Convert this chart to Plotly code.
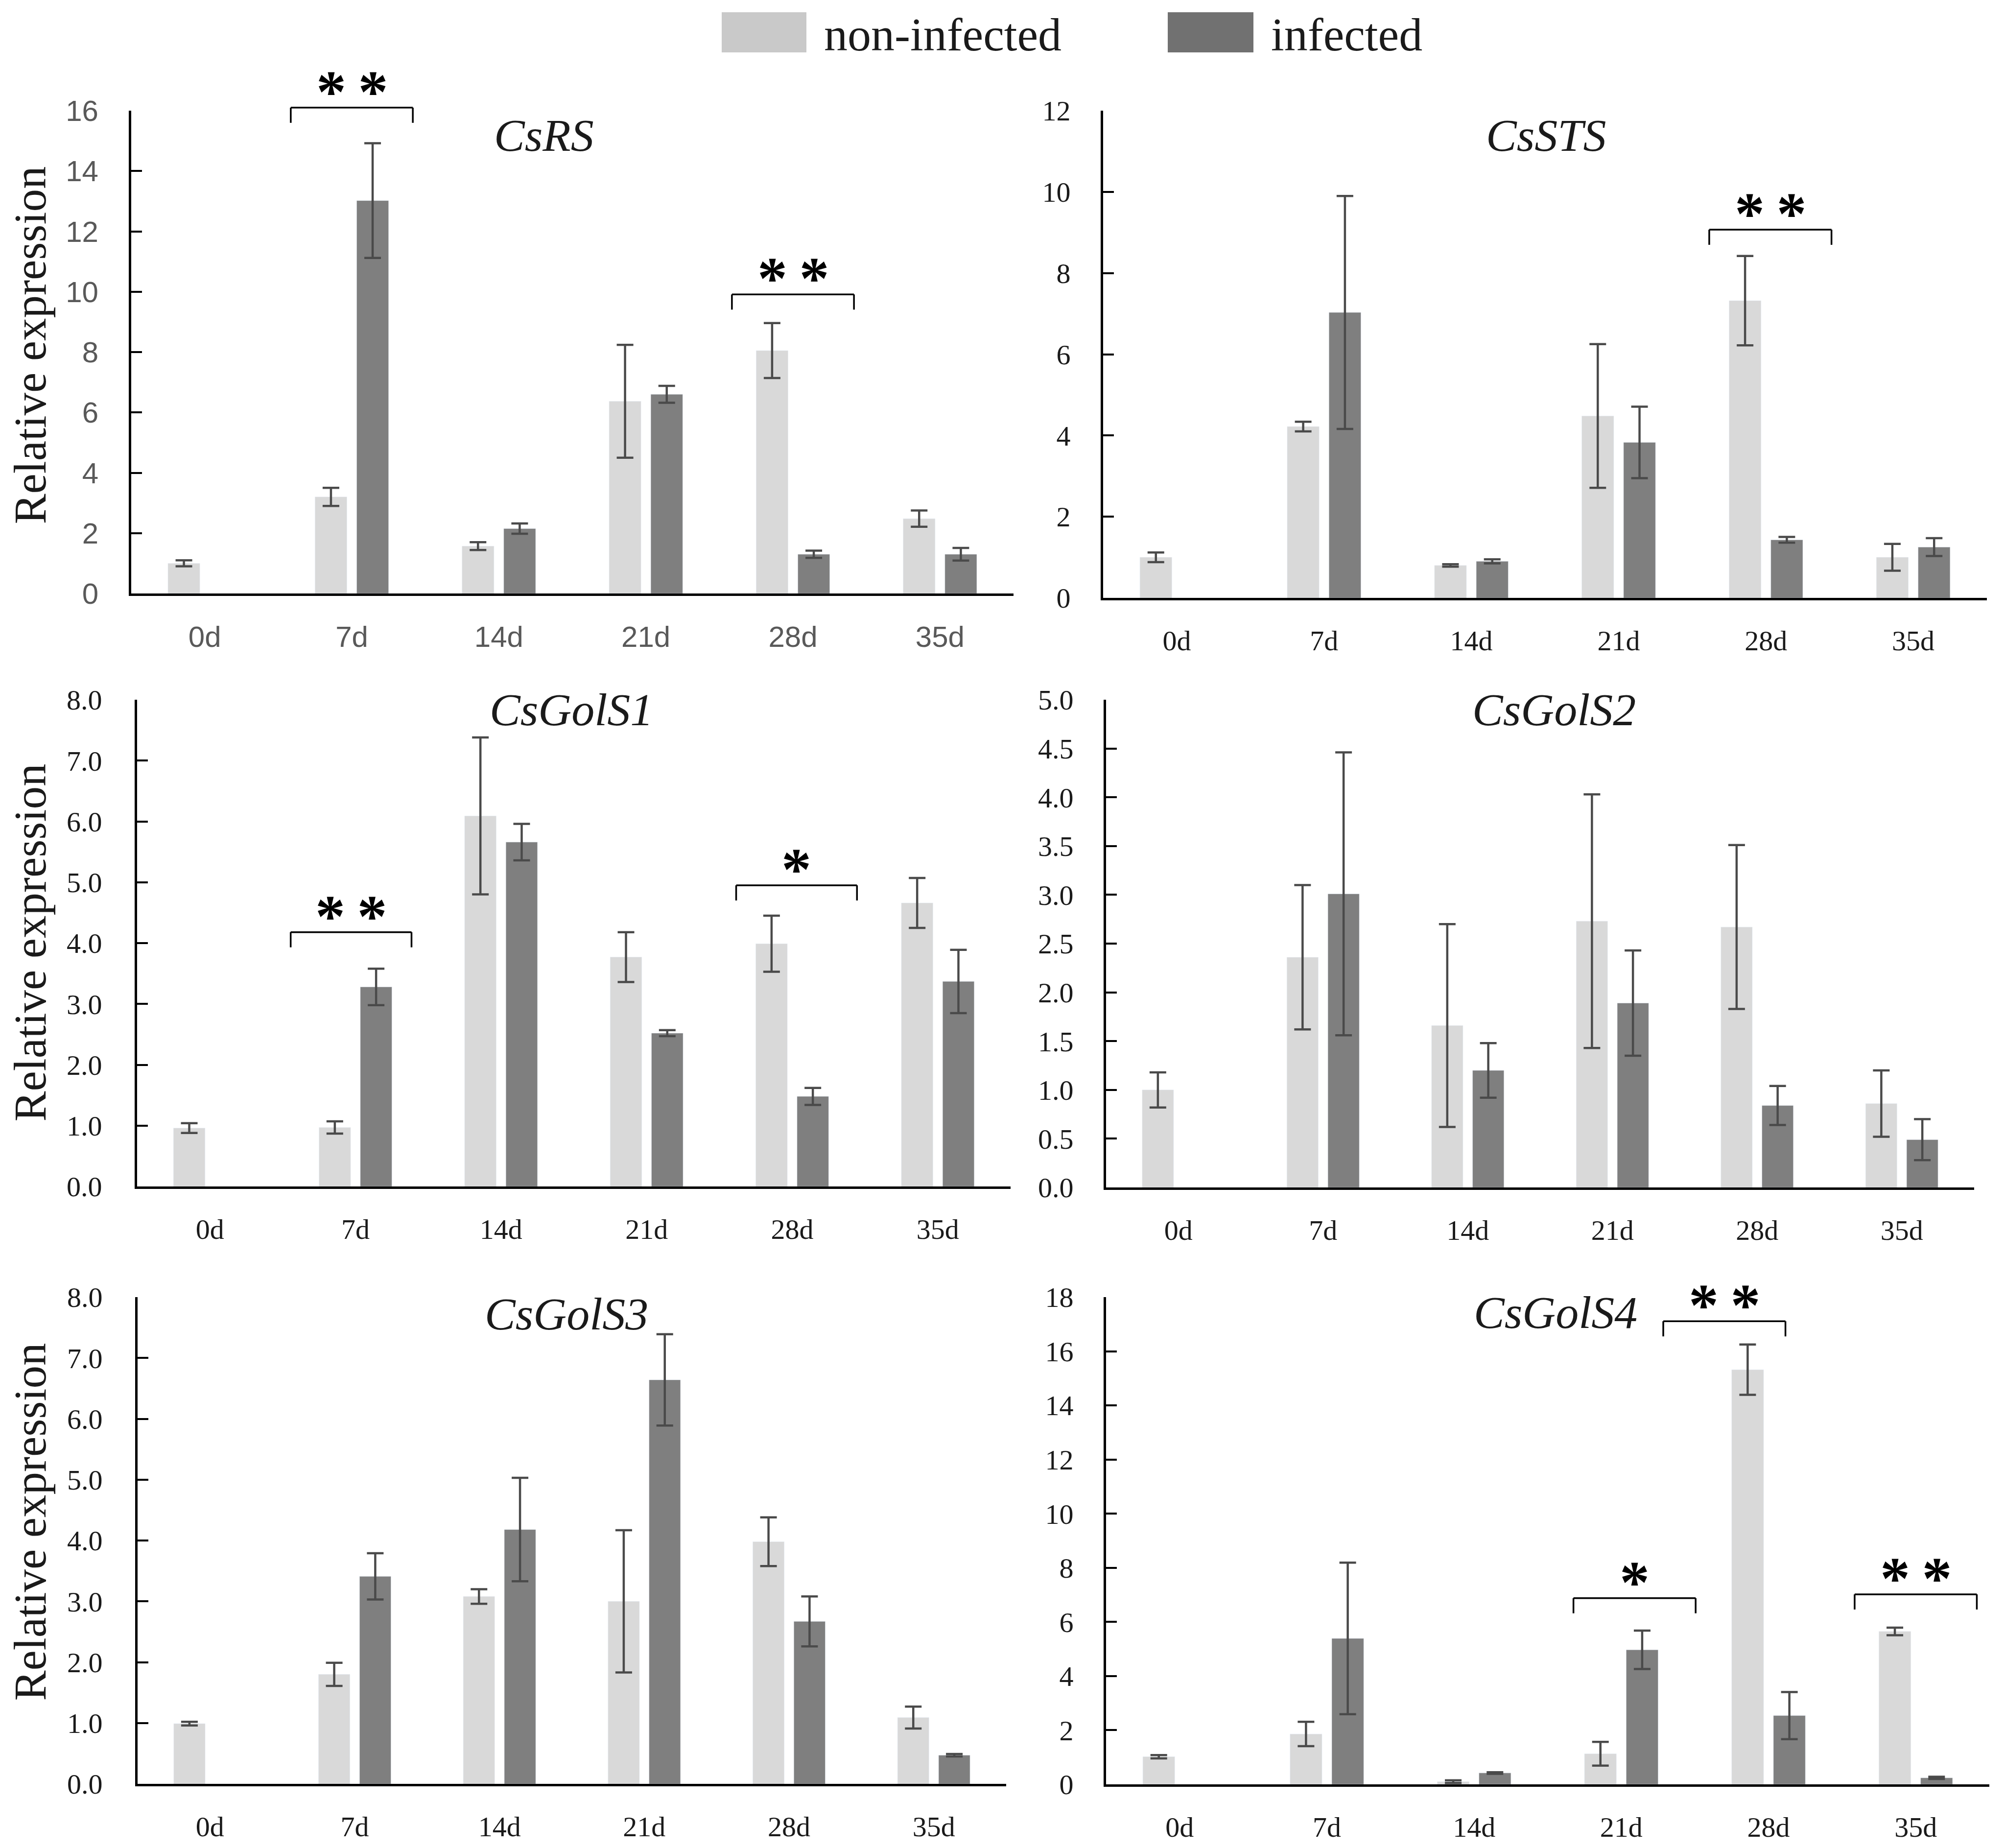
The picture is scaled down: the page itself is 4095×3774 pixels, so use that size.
import plotly.graph_objects as go

W, H = 4095, 3774
OFF = 8  # page body margin in the browser

days = ["0d", "7d", "14d", "21d", "28d", "35d"]
genes = ["CsRS", "CsSTS", "CsGolS1", "CsGolS2", "CsGolS3", "CsGolS4"]

csrs_non = [1.0, 3.2, 1.57, 6.37, 8.05, 2.48]
csrs_non_err = [0.1, 0.3, 0.13, 1.87, 0.91, 0.27]
csrs_inf = [None, 13.02, 2.15, 6.6, 1.3, 1.3]
csrs_inf_err = [None, 1.9, 0.17, 0.28, 0.12, 0.21]

cssts_non = [1.0, 4.22, 0.8, 4.48, 7.32, 1.0]
cssts_non_err = [0.12, 0.12, 0.03, 1.77, 1.1, 0.33]
cssts_inf = [None, 7.03, 0.9, 3.83, 1.43, 1.25]
cssts_inf_err = [None, 2.87, 0.05, 0.88, 0.07, 0.22]

gols1_non = [0.96, 0.97, 6.09, 3.77, 3.99, 4.66]
gols1_non_err = [0.08, 0.1, 1.29, 0.41, 0.46, 0.41]
gols1_inf = [None, 3.28, 5.66, 2.52, 1.48, 3.37]
gols1_inf_err = [None, 0.3, 0.3, 0.05, 0.14, 0.52]

gols2_non = [1.0, 2.36, 1.66, 2.73, 2.67, 0.86]
gols2_non_err = [0.18, 0.74, 1.04, 1.3, 0.84, 0.34]
gols2_inf = [None, 3.01, 1.2, 1.89, 0.84, 0.49]
gols2_inf_err = [None, 1.45, 0.28, 0.54, 0.2, 0.21]

gols3_non = [0.99, 1.8, 3.08, 3.0, 3.98, 1.09]
gols3_non_err = [0.03, 0.19, 0.12, 1.17, 0.4, 0.18]
gols3_inf = [None, 3.41, 4.18, 6.64, 2.67, 0.47]
gols3_inf_err = [None, 0.38, 0.85, 0.75, 0.41, 0.02]

gols4_non = [1.02, 1.86, 0.1, 1.13, 15.32, 5.65]
gols4_non_err = [0.06, 0.45, 0.05, 0.44, 0.93, 0.14]
gols4_inf = [None, 5.39, 0.42, 4.97, 2.54, 0.24]
gols4_inf_err = [None, 2.8, 0.03, 0.71, 0.87, 0.04]

y_max = [16, 12, 8, 5, 8, 18]
y_dtick = [2, 2, 1, 0.5, 1, 2]
y_format = ["d", "d", ".1f", ".1f", ".1f", "d"]

# significance brackets: (category index centre, bracket level, label)
sig_csrs = [(1.0, 16.1, "**"), (4.0, 9.91, "**")]
sig_cssts = [(4.03, 9.07, "**")]
sig_gols1 = [(0.97, 4.18, "**"), (4.03, 4.95, "*")]
sig_gols4 = [(3.7, 17.11, "**"), (3.09, 6.88, "*"), (5.0, 7.02, "**")]

panels = [
    (csrs_non, csrs_non_err, csrs_inf, csrs_inf_err, sig_csrs),
    (cssts_non, cssts_non_err, cssts_inf, cssts_inf_err, sig_cssts),
    (gols1_non, gols1_non_err, gols1_inf, gols1_inf_err, sig_gols1),
    (gols2_non, gols2_non_err, gols2_inf, gols2_inf_err, []),
    (gols3_non, gols3_non_err, gols3_inf, gols3_inf_err, []),
    (gols4_non, gols4_non_err, gols4_inf, gols4_inf_err, sig_gols4),
]


def px(x):
    return (x - OFF) / W


def py(y):
    return 1 - (y - OFF) / H


# panel boxes in pixels: x0, x1, ytop, ybottom
boxes = [(268, 2070, 226, 1212), (2253, 4058, 226, 1221),
         (280, 2064, 1429, 2423), (2259, 4032, 1429, 2425),
         (281, 2055, 2649, 3643), (2259, 4063, 2649, 3644)]
title_pos = [(1111, 276), (3158, 276), (1167, 1449), (3174, 1449), (1157, 2683), (3177, 2680)]
ystandoff = [50, 50, 55, 50, 55, 50]

LIGHT = "#d9d9d9"
DARK = "#7f7f7f"
ERR = "#4a4a4a"
SERIF = "Liberation Serif, Times New Roman, serif"
SANS = "Liberation Sans, Arial, sans-serif"

fig = go.Figure()
layout = {}
shapes = []
annotations = []

for i, (non, non_e, inf, inf_e, sigs) in enumerate(panels):
    sfx = "" if i == 0 else str(i + 1)
    xa, ya = "x" + sfx, "y" + sfx
    eb = dict(thickness=4.5, width=17, color=ERR, visible=True, type="data")
    fig.add_trace(go.Bar(x=days, y=non, name="non-infected", marker_color=LIGHT,
                         error_y=dict(array=non_e, **eb), xaxis=xa, yaxis=ya,
                         showlegend=False))
    fig.add_trace(go.Bar(x=days, y=inf, name="infected", marker_color=DARK,
                         error_y=dict(array=inf_e, **eb), xaxis=xa, yaxis=ya,
                         showlegend=False))
    x0, x1, yt, yb = boxes[i]
    if i == 0:
        tfont = dict(family=SANS, size=60, color="#595959")
    else:
        tfont = dict(family=SERIF, size=58, color="#1a1a1a")
    layout["xaxis" + sfx] = dict(
        domain=[px(x0), px(x1)], anchor=ya, type="category", range=[-0.5, 5.5],
        showline=True, linecolor="black", linewidth=5, ticks="",
        tickfont=tfont, ticklabelstandoff=32, showgrid=False, zeroline=False,
        fixedrange=True)
    layout["yaxis" + sfx] = dict(
        domain=[py(yb), py(yt)], anchor=xa, range=[0, y_max[i]],
        dtick=y_dtick[i], tick0=0, tickformat=y_format[i],
        ticks="inside", ticklen=22, tickwidth=4, tickcolor="black",
        showline=True, linecolor="black", linewidth=5, showgrid=False,
        zeroline=False, tickfont=tfont, ticklabelstandoff=ystandoff[i],
        fixedrange=True)

    tx, ty = title_pos[i]
    annotations.append(dict(text="<i>%s</i>" % genes[i], x=px(tx), y=py(ty),
                            xref="paper", yref="paper", showarrow=False,
                            xanchor="center", yanchor="middle",
                            font=dict(family=SERIF, size=94, color="#1a1a1a")))

    drop = 31 / (yb - yt)
    for cx, lvl, lab in sigs:
        xl = (cx + 0.5 - 0.415) / 6
        xr = (cx + 0.5 + 0.415) / 6
        yl = lvl / y_max[i]
        line = dict(color="black", width=3.5)
        for (ax0, ay0, ax1, ay1) in [(xl, yl, xr, yl), (xl, yl, xl, yl - drop), (xr, yl, xr, yl - drop)]:
            shapes.append(dict(type="line", xref=xa + " domain", yref=ya + " domain",
                               x0=ax0, y0=ay0, x1=ax1, y1=ay1, line=line))
        annotations.append(dict(text="<b>%s</b>" % "\u2009".join(lab), x=(cx + 0.5) / 6, y=yl,
                                xref=xa + " domain", yref=ya + " domain",
                                showarrow=False, xanchor="center",
                                yanchor="bottom", yshift=-37,
                                font=dict(family=SERIF, size=122, color="black")))

# y axis titles
for cy in [705, 1925, 3108]:
    annotations.append(dict(text="Relative expression", x=0, y=py(cy),
                            xref="paper", yref="paper", showarrow=False, textangle=-90,
                            xanchor="left", yanchor="middle", borderpad=0,
                            font=dict(family=SERIF, size=93, color="#1a1a1a")))

# legend
legend_items = [("non-infected", "#c9c9c9", 1474, 1647, 1681),
                ("infected", "#717171", 2385, 2560, 2594)]
for lab, col, sx0, sx1, tx in legend_items:
    shapes.append(dict(type="rect", xref="paper", yref="paper", x0=px(sx0), x1=px(sx1),
                       y0=py(107), y1=py(25), fillcolor=col, line=dict(width=0)))
    annotations.append(dict(text=lab, x=px(tx), y=py(70), xref="paper", yref="paper",
                            showarrow=False, xanchor="left", yanchor="middle",
                            font=dict(family=SERIF, size=96, color="#1a1a1a")))

fig.update_layout(**layout)
fig.update_layout(width=W, height=H,
                  margin=dict(l=0, r=0, t=0, b=0, pad=0, autoexpand=False),
                  paper_bgcolor="white", plot_bgcolor="white",
                  barmode="group", bargap=0.433, bargroupgap=0.235,
                  shapes=shapes, annotations=annotations, showlegend=False)
fig.write_html("out.html")
